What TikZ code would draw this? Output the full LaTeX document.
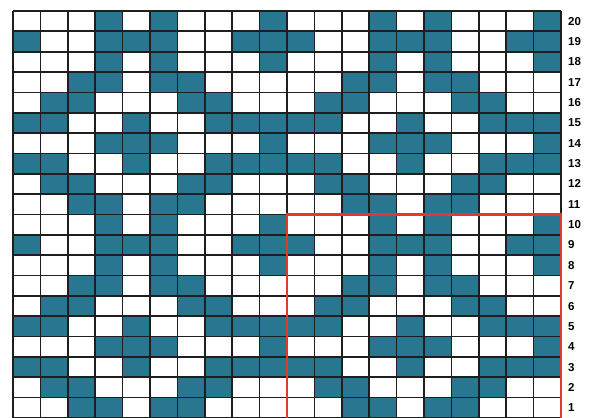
\documentclass[tikz,border=0pt]{standalone}
\usepackage{fontspec}
\setmainfont{Liberation Sans}
\definecolor{teal1}{RGB}{40,118,143}
\definecolor{gridc}{RGB}{30,30,30}
\definecolor{redc}{RGB}{222,58,48}
\tikzset{
  cellfill/.style={fill=teal1},
  gridline/.style={draw=gridc,line width=1.7pt},
  repeatbox/.style={draw=redc,line width=2.2pt},
  rowlab/.style={anchor=west,inner sep=0pt,font=\fontsize{11.5}{13}\selectfont\bfseries}
}
\begin{document}
\begin{tikzpicture}[x=1pt,y=1pt]
\useasboundingbox[fill=white] (0,0) rectangle (590,418);
\def\xo{13}\def\cw{27.4}\def\rh{20.35}
% teal cells (10x10 repeat)
\foreach \r/\cols in {1/{3,4,6,7},2/{2,3,7,8},3/{1,2,5,8,9,10},4/{4,5,6,10},5/{1,2,5,8,9,10},6/{2,3,7,8},7/{3,4,6,7},8/{4,6,10},9/{1,4,5,6,9,10},10/{4,6,10}}{
  \foreach \c in \cols {
    \foreach \k in {0,1}{
      \foreach \m in {0,1}{
        \fill[cellfill] ({\xo+(\c+10*\k-1)*\cw},{(\r+10*\m-1)*\rh}) rectangle ++(\cw,\rh);
      }
    }
  }
}
% grid lines
\foreach \k in {0,...,20}{
  \draw[gridline] ({\xo+\k*\cw},0) -- ({\xo+\k*\cw},{20*\rh});
  \draw[gridline] (\xo,{\k*\rh}) -- ({\xo+20*\cw},{\k*\rh});
}
% repeat box
\draw[repeatbox] ({\xo+10*\cw},0) -- ({\xo+10*\cw},{10*\rh}) -- ({\xo+20*\cw},{10*\rh}) -- ({\xo+20*\cw},0);
% row labels
\foreach \r in {1,...,20}{
  \node[rowlab] (lab\r) at (568,{(\r-0.5)*\rh}) {\r};
}
\end{tikzpicture}
\end{document}
